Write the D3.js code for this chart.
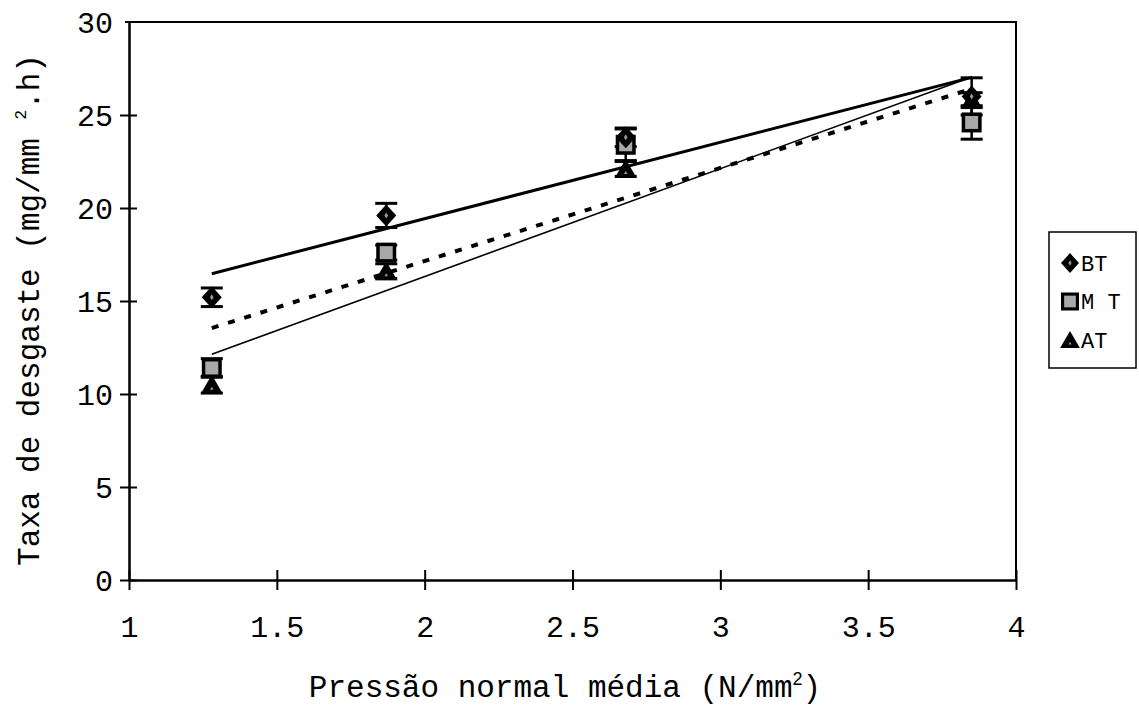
<!DOCTYPE html>
<html>
<head>
<meta charset="utf-8">
<script src="https://cdn.jsdelivr.net/npm/d3@7"></script>
<style>
  html, body { margin: 0; padding: 0; background: #fff; }
  svg { display: block; }
  text { font-family: "Liberation Mono", "Courier New", monospace; fill: #000; }
</style>
</head>
<body>
<svg id="chart" width="1139" height="714"></svg>
<script>
// Mean normal pressure (N/mm²)
const pressure = [1.28, 1.87, 2.68, 3.85];
// Wear rate per series (mg/mm².h) and half-width of error bars
const seriesNames = ["BT", "MT", "AT"];
const legendLabels = ["BT", "M T", "AT"];
const wearBT = [15.2, 19.6, 23.8, 26.0];
const wearMT = [11.4, 17.6, 23.4, 24.6];
const wearAT = [10.5, 16.6, 22.1, 25.8];
const errBT = [0.5, 0.65, 0.5, 1.0];
const errMT = [0.5, 0.4, 0.85, 0.9];
const errAT = [0.45, 0.4, 0.4, 0.4];
const xTicks = [1, 1.5, 2, 2.5, 3, 3.5, 4];
const yTicks = [0, 5, 10, 15, 20, 25, 30];

const svg = d3.select("#chart");
const margin = { left: 129, right: 123, top: 22, bottom: 134 };
const W = 1139, H = 714;

const x = d3.scaleLinear().domain([1, 4]).range([margin.left, W - margin.right]);
const y = d3.scaleLinear().domain([0, 30]).range([H - margin.bottom, margin.top]);

const series = [
  { name: "BT", v: wearBT, e: errBT, shape: "diamond" },
  { name: "MT", v: wearMT, e: errMT, shape: "square" },
  { name: "AT", v: wearAT, e: errAT, shape: "triangle" }
];

// Plot frame (top and right borders)
svg.append("path")
  .attr("d", `M${x(1) - 4},${y(30)} H${x(4)} V${y(0)}`)
  .attr("fill", "none").attr("stroke", "#000").attr("stroke-width", 2);

// Axes
const xAxis = d3.axisBottom(x).tickValues(xTicks).tickFormat(d3.format("")).tickSize(0);
const gx = svg.append("g").attr("transform", `translate(0,${y(0)})`).call(xAxis);
gx.select(".domain").attr("stroke-width", 2.5);
gx.selectAll(".tick line").remove();
gx.selectAll(".tick").append("line")
  .attr("y1", -10).attr("y2", 10).attr("stroke", "#000").attr("stroke-width", 2);
gx.selectAll(".tick text").attr("y", 57).attr("dy", 0)
  .style("font-size", "30px").style("font-family", "'Liberation Mono', monospace");

const yAxis = d3.axisLeft(y).tickValues(yTicks).tickSize(0);
const gy = svg.append("g").attr("transform", `translate(${x(1)},0)`).call(yAxis);
gy.select(".domain").attr("stroke-width", 2.5);
gy.selectAll(".tick line").remove();
gy.selectAll(".tick").filter(d => d !== 30).append("line")
  .attr("x1", -9).attr("x2", 8).attr("stroke", "#000").attr("stroke-width", 2);
gy.selectAll(".tick text").attr("x", -16).attr("dy", "0.36em")
  .style("font-size", "30px").style("font-family", "'Liberation Mono', monospace");
gx.selectAll("text").attr("fill", "#000");
gy.selectAll("text").attr("fill", "#000");

// Least-squares fit of a series
function fit(xs, ys) {
  const mx = d3.mean(xs), my = d3.mean(ys);
  let sxy = 0, sxx = 0;
  xs.forEach((xi, i) => { sxy += (xi - mx) * (ys[i] - my); sxx += (xi - mx) ** 2; });
  const b = sxy / sxx;
  return t => my + b * (t - mx);
}
const x0 = d3.min(pressure), x1 = d3.max(pressure);
const trendStyle = {
  BT: { w: 3, dash: null },
  MT: { w: 4, dash: "7,10" },
  AT: { w: 1.6, dash: null }
};
series.forEach(s => {
  const f = fit(pressure, s.v);
  const st = trendStyle[s.name];
  svg.append("line")
    .attr("x1", x(x0)).attr("y1", y(f(x0)))
    .attr("x2", x(x1)).attr("y2", y(f(x1)))
    .attr("stroke", "#000").attr("stroke-width", st.w)
    .attr("stroke-dasharray", st.dash);
});

// Error bars
series.forEach(s => {
  const g = svg.append("g");
  pressure.forEach((p, i) => {
    const cx = x(p), top = y(s.v[i] + s.e[i]), bot = y(s.v[i] - s.e[i]);
    g.append("line").attr("x1", cx).attr("x2", cx).attr("y1", top).attr("y2", bot)
      .attr("stroke", "#000").attr("stroke-width", 2.5);
    [top, bot].forEach(yy => g.append("line")
      .attr("x1", cx - 11).attr("x2", cx + 11).attr("y1", yy).attr("y2", yy)
      .attr("stroke", "#000").attr("stroke-width", 3));
  });
});

// Marker shapes
function marker(g, shape, cx, cy, s) {
  if (shape === "diamond") {
    g.append("path").attr("d", `M${cx},${cy - 11*s} L${cx + 10*s},${cy} L${cx},${cy + 11*s} L${cx - 10*s},${cy} Z`)
      .attr("fill", "#000");
    g.append("path").attr("d", `M${cx},${cy - 3*s} L${cx + 1.8*s},${cy} L${cx},${cy + 3*s} L${cx - 1.8*s},${cy} Z`)
      .attr("fill", "#999");
  } else if (shape === "square") {
    g.append("rect").attr("x", cx - 10*s).attr("y", cy - 10*s).attr("width", 20*s).attr("height", 20*s)
      .attr("fill", "#000");
    g.append("rect").attr("x", cx - 6.5*s).attr("y", cy - 6.5*s).attr("width", 13*s).attr("height", 13*s)
      .attr("fill", "#a8a8a8");
  } else {
    g.append("path").attr("d", `M${cx},${cy - 10*s} L${cx + 11*s},${cy + 9*s} L${cx - 11*s},${cy + 9*s} Z`)
      .attr("fill", "#000");
    g.append("path").attr("d", `M${cx},${cy + 2*s} L${cx + 1.8*s},${cy + 5*s} L${cx - 1.8*s},${cy + 5*s} Z`)
      .attr("fill", "#999");
  }
}
series.slice().reverse().forEach(s => {
  const g = svg.append("g");
  pressure.forEach((p, i) => marker(g, s.shape, x(p), y(s.v[i]), 1));
});

// Legend
const lg = svg.append("g");
lg.append("rect").attr("x", 1049).attr("y", 232).attr("width", 87).attr("height", 136)
  .attr("fill", "#fff").attr("stroke", "#000").attr("stroke-width", 1.5);
series.forEach((s, i) => {
  const cy = 263 + i * 38.5;
  marker(lg, s.shape, 1070, cy, 0.9);
  lg.append("text").attr("x", 1081).attr("y", cy).attr("dy", "0.35em")
    .style("font-size", "22px").text(legendLabels[i]);
});

// Axis titles
const xt = svg.append("text")
  .attr("x", 565).attr("y", 697).attr("text-anchor", "middle")
  .style("font-size", "31px");
xt.append("tspan").text("Pressão normal média (N/mm");
xt.append("tspan").style("font-family", "'Liberation Sans', sans-serif").style("font-size", "18px")
  .attr("dy", -12).text("2");
xt.append("tspan").attr("dy", 12).text(")");

const yt = svg.append("text")
  .attr("transform", `translate(39,310) rotate(-90)`)
  .attr("text-anchor", "middle")
  .style("font-size", "31px");
yt.append("tspan").text("Taxa de desgaste (mg/mm ");
yt.append("tspan").style("font-size", "16px").attr("dy", -13).text("2");
yt.append("tspan").attr("dy", 13).text(".h)");
</script>
</body>
</html>
